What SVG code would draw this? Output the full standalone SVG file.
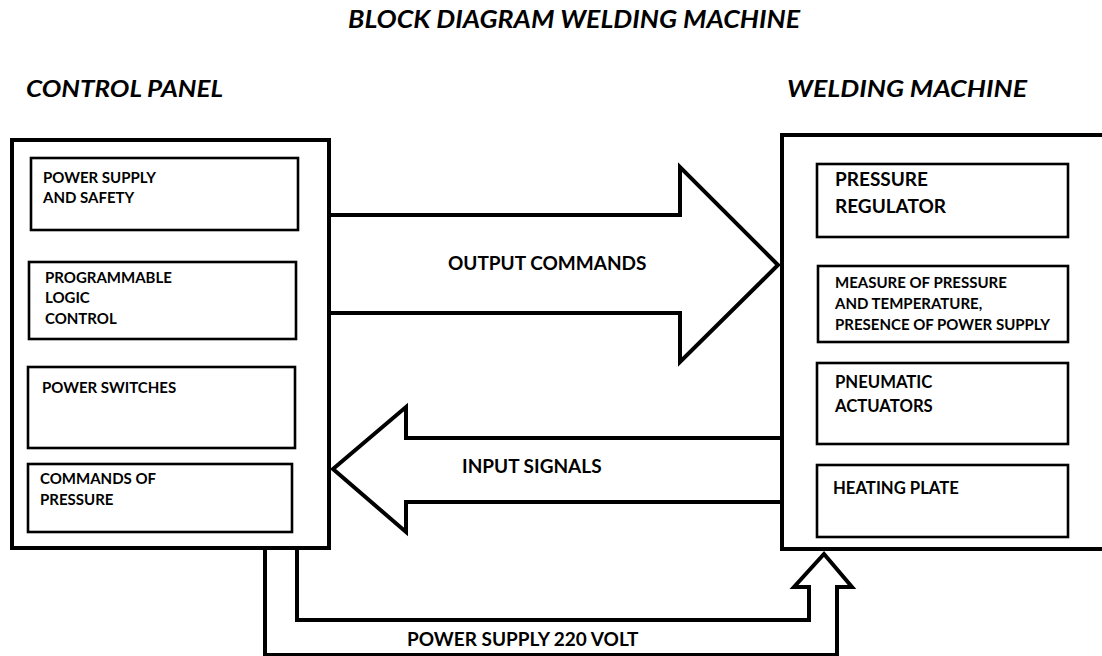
<svg xmlns="http://www.w3.org/2000/svg" width="1102" height="656" viewBox="0 0 1102 656">
  <style>
    .bg { fill: #ffffff; }
    .frame { fill: #ffffff; stroke: #000000; stroke-width: 4; }
    .box { fill: none; stroke: #000000; stroke-width: 2.6; }
    .link { fill: #ffffff; stroke: #000000; stroke-width: 4; stroke-linejoin: miter; }
    text { font-family: Lato, "Open Sans", "Liberation Sans", sans-serif; font-weight: bold; fill: #000000; }
    .title { font-size: 24px; font-style: italic; }
    .head { font-size: 23px; font-style: italic; }
    .lbl { font-size: 15px; }
    .big { font-size: 19px; }
    .mid { font-size: 16.7px; }
    .flow { font-size: 19px; }
  </style>

  <rect class="bg" x="0" y="0" width="1102" height="656"/>

  <text class="title" x="348" y="28" textLength="452" lengthAdjust="spacingAndGlyphs">BLOCK DIAGRAM WELDING MACHINE</text>
  <text class="head" x="26" y="97" textLength="197" lengthAdjust="spacingAndGlyphs">CONTROL PANEL</text>
  <text class="head" x="787" y="97" textLength="240" lengthAdjust="spacingAndGlyphs">WELDING MACHINE</text>

  <!-- connectors: wide outline arrows between the two units -->
  <g id="connectors">
    <path id="output-commands" class="link" d="M330,215 H680 V167 L778,265 L680,362 V313 H330"/>
    <text class="flow" x="448" y="270">OUTPUT COMMANDS</text>
    <path id="input-signals" class="link" d="M782,438 H406 V407 L333,469 L406,532 V502 H782"/>
    <text class="flow" x="462" y="473">INPUT SIGNALS</text>
    <path id="power-supply" class="link" style="fill:none" d="M297,548 V620 H809 V587 H794 L824,554 L852,587 H837 V655 H265 V548"/>
    <text class="flow" x="407" y="646">POWER SUPPLY 220 VOLT</text>
  </g>

  <!-- control panel unit -->
  <g id="control-panel">
    <rect class="frame" x="12" y="140" width="317" height="408"/>
    <g id="power-supply-safety">
      <rect class="box" x="31" y="158" width="267" height="72"/>
      <text class="lbl" x="43" y="183">POWER SUPPLY</text>
      <text class="lbl" x="43" y="203">AND SAFETY</text>
    </g>
    <g id="plc">
      <rect class="box" x="29" y="262" width="267" height="77"/>
      <text class="lbl" x="45" y="283">PROGRAMMABLE</text>
      <text class="lbl" x="45" y="303">LOGIC</text>
      <text class="lbl" x="45" y="324">CONTROL</text>
    </g>
    <g id="power-switches">
      <rect class="box" x="28" y="367" width="267" height="81"/>
      <text class="lbl" x="42" y="393">POWER SWITCHES</text>
    </g>
    <g id="pressure-commands">
      <rect class="box" x="28" y="464" width="264" height="68"/>
      <text class="lbl" x="40" y="484">COMMANDS OF</text>
      <text class="lbl" x="40" y="505">PRESSURE</text>
    </g>
  </g>

  <!-- welding machine unit -->
  <g id="welding-machine">
    <rect class="frame" x="782" y="135" width="340" height="414"/>
    <g id="pressure-regulator">
      <rect class="box" x="817" y="164" width="251" height="73"/>
      <text class="big" x="835" y="186">PRESSURE</text>
      <text class="big" x="835" y="213">REGULATOR</text>
    </g>
    <g id="measurements">
      <rect class="box" x="818" y="266" width="250" height="76"/>
      <text class="lbl" x="835" y="288">MEASURE OF PRESSURE</text>
      <text class="lbl" x="835" y="309">AND TEMPERATURE,</text>
      <text class="lbl" x="835" y="330">PRESENCE OF POWER SUPPLY</text>
    </g>
    <g id="pneumatic-actuators">
      <rect class="box" x="817" y="363" width="251" height="81"/>
      <text class="mid" x="835" y="388">PNEUMATIC</text>
      <text class="mid" x="835" y="412">ACTUATORS</text>
    </g>
    <g id="heating-plate">
      <rect class="box" x="817" y="465" width="251" height="72"/>
      <text class="mid" x="833" y="494">HEATING PLATE</text>
    </g>
  </g>
</svg>
